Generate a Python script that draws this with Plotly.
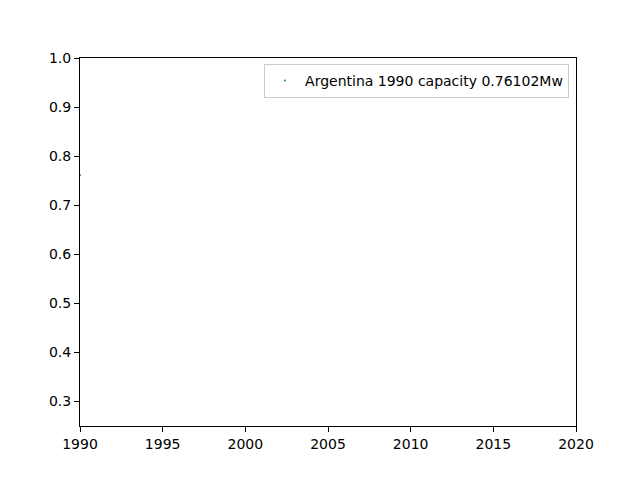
import plotly.graph_objects as go

countries = ["Argentina"]
years = [1990]
capacity = [0.76102]

x_ticks = [1990, 1995, 2000, 2005, 2010, 2015, 2020]
y_ticks = [0.3, 0.4, 0.5, 0.6, 0.7, 0.8, 0.9, 1.0]

fig = go.Figure()
for c, yr, cap in zip(countries, years, capacity):
    fig.add_trace(go.Scatter(
        x=[yr], y=[cap], mode="markers",
        name=f"{c} {yr} capacity {cap}Mw",
        marker=dict(color="#1f77b4", size=2),
        cliponaxis=True,
    ))

axis_style = dict(
    showline=True, linecolor="black", linewidth=1, mirror=True,
    ticks="outside", ticklen=5, tickcolor="black",
    showgrid=False, zeroline=False,
    tickfont=dict(family="DejaVu Sans", size=14, color="black"),
)

# page body has an 8px margin, so offsets are shifted by that
fig.update_layout(
    width=640, height=480,
    margin=dict(l=72, r=72, t=50, b=62),
    paper_bgcolor="white", plot_bgcolor="white",
    showlegend=True,
    legend=dict(
        x=0.986, y=0.984, xanchor="right", yanchor="top",
        bordercolor="#cccccc", borderwidth=1, bgcolor="white",
        font=dict(family="DejaVu Sans", size=14, color="black"),
    ),
    xaxis=dict(range=[1990, 2020], tickvals=x_ticks, **axis_style),
    yaxis=dict(range=[0.25, 1.0], tickvals=y_ticks, tickformat=".1f", **axis_style),
)

fig.write_html("out.html")
